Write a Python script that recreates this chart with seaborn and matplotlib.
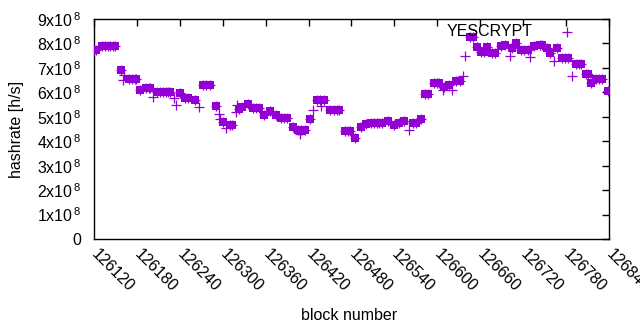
import numpy as np
import pandas as pd
import seaborn as sns
import matplotlib
matplotlib.use("Agg")
import matplotlib.pyplot as plt

# blocks drawn with a filled square (and a plus on top), values in 1e8 h/s
square_blocks = [126123, 126131, 126135, 126139, 126143, 126147, 126149, 126158,
                 126169, 126173, 126177, 126179, 126185, 126193, 126197, 126198,
                 126208, 126212, 126216, 126220, 126224, 126226, 126240, 126247,
                 126251, 126261, 126272, 126276, 126282, 126290, 126301, 126310,
                 126313, 126323, 126327, 126335, 126342, 126346, 126351, 126358,
                 126366, 126374, 126381, 126385, 126390, 126398, 126405, 126410,
                 126415, 126422, 126432, 126436, 126442, 126450, 126455, 126460,
                 126463, 126471, 126475, 126478, 126485, 126493, 126500, 126507,
                 126511, 126515, 126519, 126523, 126531, 126539, 126547, 126553,
                 126566, 126570, 126577, 126583, 126587, 126595, 126599, 126602,
                 126610, 126616, 126626, 126632, 126646, 126650, 126656, 126661,
                 126665, 126670, 126676, 126681, 126689, 126695, 126705, 126710,
                 126717, 126721, 126727, 126735, 126743, 126746, 126754, 126758,
                 126767, 126774, 126778, 126783, 126794, 126798, 126801, 126808,
                 126811, 126815, 126822, 126826, 126830, 126838]
square_vals = [7.73, 7.9, 7.9, 7.9, 7.9, 7.9, 7.9, 6.9,
               6.53, 6.53, 6.53, 6.53, 6.1, 6.18, 6.18, 6.18,
               6.0, 6.0, 6.0, 6.0, 6.0, 6.0, 5.97, 5.75,
               5.75, 5.7, 6.28, 6.28, 6.28, 5.46, 4.77, 4.68,
               4.68, 5.3, 5.38, 5.52, 5.36, 5.36, 5.36, 5.07,
               5.24, 5.07, 4.93, 4.93, 4.93, 4.6, 4.44, 4.44,
               4.44, 4.9, 5.67, 5.67, 5.67, 5.28, 5.28, 5.28,
               5.28, 4.42, 4.42, 4.42, 4.15, 4.6, 4.7, 4.75,
               4.75, 4.75, 4.75, 4.75, 4.83, 4.66, 4.75, 4.82,
               4.75, 4.75, 4.9, 5.95, 5.95, 6.4, 6.4, 6.4,
               6.2, 6.3, 6.45, 6.45, 8.25, 8.25, 7.85, 7.65,
               7.65, 7.85, 7.6, 7.6, 7.9, 7.95, 7.8, 8.0,
               7.75, 7.75, 7.75, 7.9, 7.95, 7.95, 7.8, 7.6,
               7.8, 7.42, 7.42, 7.42, 7.15, 7.15, 7.15, 6.77,
               6.77, 6.4, 6.55, 6.55, 6.55, 6.05]

# blocks drawn only with a plus
plus_blocks = [126120, 126161, 126162, 126202, 126232, 126235, 126267, 126295,
               126296, 126305, 126319, 126320, 126408, 126426, 126437, 126560,
               126608, 126620, 126636, 126639, 126701, 126730, 126763, 126781,
               126788]
plus_vals = [7.73, 6.5, 6.7, 5.8, 5.77, 5.5, 5.4, 5.1,
             4.9, 4.55, 5.2, 5.48, 4.3, 5.28, 5.45, 4.45,
             6.1, 6.1, 6.65, 7.5, 7.47, 7.45, 7.3, 8.45,
             6.65]

color = "#9400D3"

sq = pd.DataFrame({"block": square_blocks, "hashrate": np.array(square_vals) * 1e8})
pl = pd.DataFrame({"block": square_blocks + plus_blocks,
                   "hashrate": np.array(square_vals + plus_vals) * 1e8})

sns.set_style("white")
plt.rcParams["font.family"] = ["Liberation Sans", "DejaVu Sans"]
plt.rcParams["text.color"] = "black"
plt.rcParams["axes.labelcolor"] = "black"
plt.rcParams["xtick.color"] = "black"
plt.rcParams["ytick.color"] = "black"
fs = 11.5

fig = plt.figure(figsize=(6.4, 3.3), dpi=100)
ax = fig.add_axes([94 / 640, 1 - 239 / 330, (609 - 94) / 640, (239 - 19) / 330])

sns.scatterplot(data=sq, x="block", y="hashrate", marker="s", s=30,
                color=color, linewidth=0, ax=ax, zorder=3)
sns.scatterplot(data=pl, x="block", y="hashrate", marker="+", s=56,
                color=color, linewidth=0.9, ax=ax, zorder=4)

ax.set_xlim(126120, 126840)
ax.set_ylim(0, 9e8)

xt = np.arange(126120, 126841, 60)
ax.set_xticks(xt)
ax.set_xticklabels([str(v) for v in xt], rotation=-45, ha="left", va="center",
                   rotation_mode="anchor", fontsize=fs)
yt = np.arange(0, 10) * 1e8
ax.set_yticks(yt)
ax.set_yticklabels(["0"] + [f"{k}x10$^{{\\,\\mathregular{{8}}}}$" for k in range(1, 10)],
                   fontsize=fs)

ax.tick_params(direction="in", length=5, width=1, top=True, right=True,
               color="black", labelcolor="black")
ax.tick_params(axis="x", pad=9)
ax.tick_params(axis="y", pad=9)
for sp in ax.spines.values():
    sp.set_color("black")
    sp.set_linewidth(1)

ax.set_xlabel("block number", fontsize=fs)
ax.set_ylabel("hashrate [h/s]", fontsize=fs)
ax.xaxis.set_label_coords((349 - 94) / 515, -(315 - 239) / 220)
ax.xaxis.label.set_va("center")
ax.yaxis.set_label_coords(-(94 - 17) / 515, 0.5)
ax.yaxis.label.set_va("center")

fig.text(533 / 640, 1 - 31 / 330, "YESCRYPT", ha="right", va="center",
         fontsize=fs, color="black")

fig.savefig("out.png", dpi=100)
